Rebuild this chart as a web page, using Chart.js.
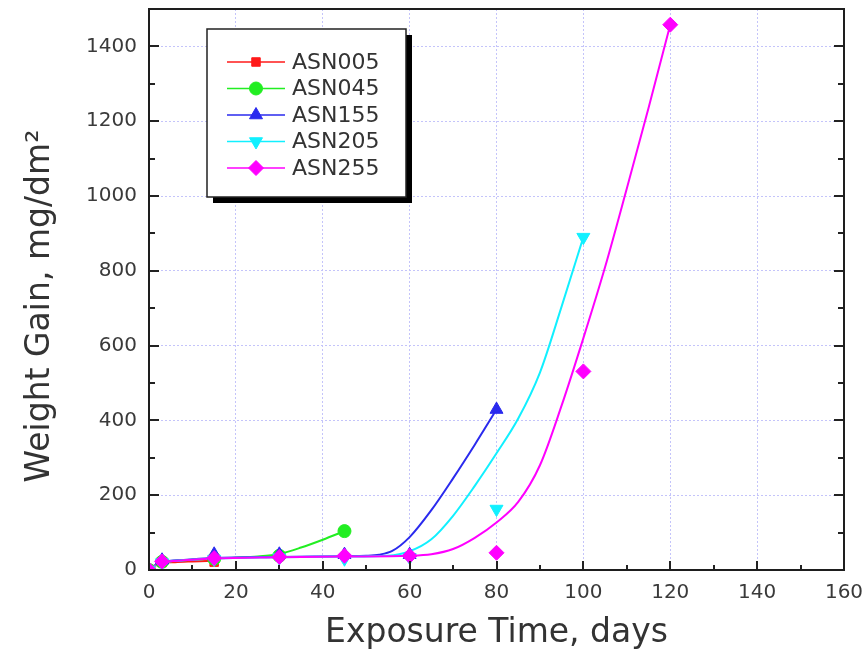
<!DOCTYPE html>
<html>
<head>
<meta charset="utf-8">
<title>Weight Gain vs Exposure Time</title>
<script src="https://cdn.jsdelivr.net/npm/chart.js@4.4.1/dist/chart.umd.min.js"></script>
<style>
  html, body { margin: 0; padding: 0; background: #ffffff; }
  #wrap { width: 868px; height: 656px; }
</style>
</head>
<body>
<div id="wrap"><canvas id="chart" width="868" height="656"></canvas></div>
<script>
// Axis tick labels
const xTicks = [0, 20, 40, 60, 80, 100, 120, 140, 160];
const yTicks = [0, 200, 400, 600, 800, 1000, 1200, 1400];

// Series names
const seriesNames = ['ASN005', 'ASN045', 'ASN155', 'ASN205', 'ASN255'];

// Measured weight gain (mg/dm²) at each exposure time (days)
const asn005Days = [0, 3, 15];
const asn005Gain = [0, 20, 21];
const asn045Days = [0, 3, 15, 30, 45];
const asn045Gain = [0, 22, 30, 38, 104];
const asn155Days = [0, 3, 15, 30, 45, 60, 80];
const asn155Gain = [0, 26, 42, 42, 41, 41, 429];
const asn205Days = [0, 3, 15, 30, 45, 60, 80, 100];
const asn205Gain = [0, 20, 29, 33, 30, 34, 163, 890];
const asn255Days = [0, 3, 15, 30, 45, 60, 80, 100, 120];
const asn255Gain = [0, 23, 32, 35, 38, 38, 46, 531, 1458];

// Fitted trend curves
const asn005FitDays = [0, 1.5, 3, 6, 10, 15];
const asn005FitGain = [3, 12, 18, 21, 23, 25];
const asn045FitDays = [0, 1.5, 3, 8, 15, 20, 25, 30, 35, 40, 45];
const asn045FitGain = [3, 13, 20, 26, 31, 33, 36, 43, 60, 81, 104];
const asn155FitDays = [0, 1.5, 3, 8, 15, 30, 45, 50, 53, 56, 60, 65, 70, 75, 80];
const asn155FitGain = [3, 14, 21, 27, 32, 35, 37, 38, 41, 51, 88, 160, 245, 335, 429];
const asn205FitDays = [0, 1.5, 3, 8, 15, 30, 45, 55, 60, 65, 70, 75, 80, 85, 90, 95, 100];
const asn205FitGain = [3, 13, 20, 26, 31, 34, 36, 38, 50, 82, 145, 225, 312, 405, 528, 705, 890];
const asn255FitDays = [0, 1.5, 3, 8, 15, 30, 45, 60, 65, 70, 75, 80, 85, 90, 95, 100, 105, 110, 115, 120];
const asn255FitGain = [3, 13, 20, 26, 31, 34, 36, 38, 42, 56, 86, 127, 182, 280, 440, 620, 810, 1020, 1235, 1458];

const colors = ['#ff1a1a', '#22ee22', '#2a2aee', '#11f0ff', '#ff00ff'];
const markers = [
  { pointStyle: 'rect', radius: 6, rotation: 0 },
  { pointStyle: 'circle', radius: 6.5, rotation: 0 },
  { pointStyle: 'triangle', radius: 7.5, rotation: 0 },
  { pointStyle: 'triangle', radius: 7.5, rotation: 180 },
  { pointStyle: 'rectRot', radius: 7.5, rotation: 0 }
];

const measured = [
  [asn005Days, asn005Gain],
  [asn045Days, asn045Gain],
  [asn155Days, asn155Gain],
  [asn205Days, asn205Gain],
  [asn255Days, asn255Gain]
];
const fits = [
  [asn005FitDays, asn005FitGain],
  [asn045FitDays, asn045FitGain],
  [asn155FitDays, asn155FitGain],
  [asn205FitDays, asn205FitGain],
  [asn255FitDays, asn255FitGain]
];

const toPoints = (xs, ys) => xs.map((x, i) => ({ x: x, y: ys[i] }));

const datasets = [];
// trend curves, drawn beneath the markers
fits.forEach((f, i) => {
  datasets.push({
    label: seriesNames[i] + ' fit',
    data: toPoints(f[0], f[1]),
    showLine: true,
    borderColor: colors[i],
    borderWidth: 2,
    pointRadius: 0,
    cubicInterpolationMode: 'monotone',
    fill: false,
    order: 20 - i
  });
});
// measured points; the later series sit on top
measured.forEach((m, i) => {
  datasets.push({
    label: seriesNames[i],
    data: toPoints(m[0], m[1]),
    showLine: false,
    backgroundColor: colors[i],
    borderColor: colors[i],
    borderWidth: 1,
    pointStyle: markers[i].pointStyle,
    pointRadius: markers[i].radius,
    pointRotation: markers[i].rotation,
    order: 5 - i
  });
});

const FONT = "'DejaVu Sans', 'Liberation Sans', Arial, sans-serif";

// Frame, inward tick marks, y-axis title and boxed legend
const decorations = {
  id: 'decorations',
  afterDatasetsDraw(chart) {
    const ctx = chart.ctx;
    const a = chart.chartArea;
    const xs = chart.scales.x;
    const ys = chart.scales.y;
    ctx.save();

    // tick marks pointing into the plot
    ctx.strokeStyle = '#222';
    ctx.lineWidth = 2;
    ctx.beginPath();
    for (let v = 10; v < 160; v += 10) {
      const px = Math.round(xs.getPixelForValue(v));
      const len = v % 20 === 0 ? 9 : 5;
      ctx.moveTo(px, a.bottom);
      ctx.lineTo(px, a.bottom - len);
    }
    for (let v = 100; v < 1500; v += 100) {
      const py = Math.round(ys.getPixelForValue(v));
      const len = v % 200 === 0 ? 10 : 6;
      ctx.moveTo(a.left, py);
      ctx.lineTo(a.left + len, py);
      ctx.moveTo(a.right, py);
      ctx.lineTo(a.right - len, py);
    }
    ctx.stroke();

    // plot frame
    ctx.strokeStyle = '#1e1e1e';
    ctx.lineWidth = 2;
    ctx.strokeRect(a.left, a.top, a.right - a.left, a.bottom - a.top);

    // y-axis title
    ctx.fillStyle = '#333';
    ctx.font = '33px ' + FONT;
    ctx.textAlign = 'center';
    ctx.textBaseline = 'middle';
    ctx.translate(40, 306);
    ctx.rotate(-Math.PI / 2);
    ctx.fillText('Weight Gain, mg/dm²', 0, 0);
    ctx.setTransform(1, 0, 0, 1, 0, 0);

    // legend box with drop shadow
    const bx = 207, by = 29, bw = 199, bh = 168;
    ctx.fillStyle = '#000';
    ctx.fillRect(bx + 6, by + 6, bw, bh);
    ctx.fillStyle = '#fff';
    ctx.fillRect(bx, by, bw, bh);
    ctx.strokeStyle = '#222';
    ctx.lineWidth = 1.5;
    ctx.strokeRect(bx, by, bw, bh);

    ctx.font = '22px ' + FONT;
    ctx.textAlign = 'left';
    ctx.textBaseline = 'middle';
    seriesNames.forEach((name, i) => {
      const cy = 62 + i * 26.5;
      ctx.strokeStyle = colors[i];
      ctx.lineWidth = 1.5;
      ctx.beginPath();
      ctx.moveTo(227, cy);
      ctx.lineTo(285, cy);
      ctx.stroke();
      ctx.fillStyle = colors[i];
      ctx.strokeStyle = colors[i];
      ctx.lineWidth = 1;
      Chart.helpers.drawPoint(ctx, {
        pointStyle: markers[i].pointStyle,
        radius: markers[i].radius,
        rotation: markers[i].rotation,
        borderWidth: 1
      }, 256, cy);
      ctx.fillStyle = '#333';
      ctx.fillText(name, 292, cy + 1);
    });
    ctx.restore();
  }
};

new Chart(document.getElementById('chart'), {
  type: 'scatter',
  data: { datasets: datasets },
  plugins: [decorations],
  options: {
    responsive: false,
    animation: false,
    layout: { padding: { left: 0, top: 9, right: 24, bottom: 0 } },
    plugins: {
      legend: { display: false },
      tooltip: { enabled: false }
    },
    scales: {
      x: {
        type: 'linear',
        min: 0,
        max: 160,
        afterBuildTicks: (scale) => { scale.ticks = xTicks.map(v => ({ value: v })); },
        afterFit: (scale) => {
          scale.height = 86;
          scale.paddingLeft = 0;
          scale.paddingRight = 0;
        },
        grid: { color: '#c4c4fa', lineWidth: 1, drawTicks: false },
        border: { display: false, dash: [2, 2] },
        ticks: {
          font: { family: FONT, size: 20 },
          color: '#3a3a3a',
          padding: 11,
          maxRotation: 0,
          callback: (v) => String(v)
        },
        title: {
          display: true,
          text: 'Exposure Time, days',
          font: { family: FONT, size: 33 },
          color: '#333',
          padding: { top: 0, bottom: 3 }
        }
      },
      y: {
        type: 'linear',
        min: 0,
        max: 1500,
        afterBuildTicks: (scale) => { scale.ticks = yTicks.map(v => ({ value: v })); },
        afterFit: (scale) => {
          scale.width = 149;
          scale.paddingTop = 0;
          scale.paddingBottom = 0;
        },
        grid: { color: '#c4c4fa', lineWidth: 1, drawTicks: false },
        border: { display: false, dash: [2, 2] },
        ticks: {
          font: { family: FONT, size: 20 },
          color: '#3a3a3a',
          padding: 12,
          callback: (v) => String(v)
        }
      }
    }
  }
});
</script>
</body>
</html>
